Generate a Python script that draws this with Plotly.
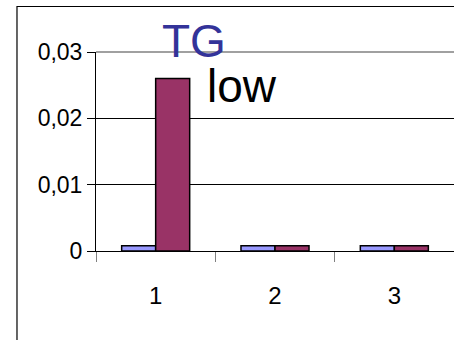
import plotly.graph_objects as go

categories = ["1", "2", "3"]
series_a = [0.0008, 0.0008, 0.0008]
series_b = [0.026, 0.0008, 0.0008]
y_tickvals = [0, 0.01, 0.02, 0.03]
y_ticktext = ["0", "0,01", "0,02", "0,03"]

fig = go.Figure()
fig.add_trace(go.Bar(x=categories, y=series_a, marker=dict(color="#9999FF", line=dict(color="black", width=1.5)), showlegend=False))
fig.add_trace(go.Bar(x=categories, y=series_b, marker=dict(color="#993366", line=dict(color="black", width=1.5)), showlegend=False))

font = "Liberation Sans, Arial, sans-serif"
fig.update_layout(
    width=454, height=340,
    margin=dict(l=96, r=0, t=52, b=89),
    paper_bgcolor="white", plot_bgcolor="white",
    barmode="group", bargap=0.43, bargroupgap=0,
    font=dict(family=font, size=22, color="black"),
    xaxis=dict(type="category", showline=True, linecolor="black", linewidth=1,
               ticks="outside", tickson="boundaries", ticklen=10, tickcolor="#808080",
               showgrid=False, tickfont=dict(family=font, size=24), ticklabelstandoff=23),
    yaxis=dict(range=[0, 0.03], tickvals=y_tickvals, ticktext=y_ticktext,
               showline=True, linecolor="black", linewidth=1,
               ticks="outside", ticklen=8, tickcolor="black",
               showgrid=True, gridcolor="black", gridwidth=1, zeroline=False,
               tickfont=dict(family=font, size=23)),
    shapes=[
        dict(type="line", xref="paper", yref="paper", x0=0, x1=1, y0=1, y1=1, line=dict(color="#808080", width=1.5)),
        dict(type="rect", xref="paper", yref="paper", x0=-0.2207, x1=1.05, y0=-0.6, y1=1.2286, line=dict(color="black", width=1.2)),
    ],
    annotations=[
        dict(text="TG", xref="paper", yref="paper", x=0.274, y=1.055, xanchor="center", yanchor="middle",
             showarrow=False, font=dict(family=font, size=46, color="#333399")),
        dict(text="low", xref="paper", yref="paper", x=0.409, y=0.829, xanchor="center", yanchor="middle",
             showarrow=False, font=dict(family=font, size=46, color="black")),
    ],
)
fig.write_html("out.html")
